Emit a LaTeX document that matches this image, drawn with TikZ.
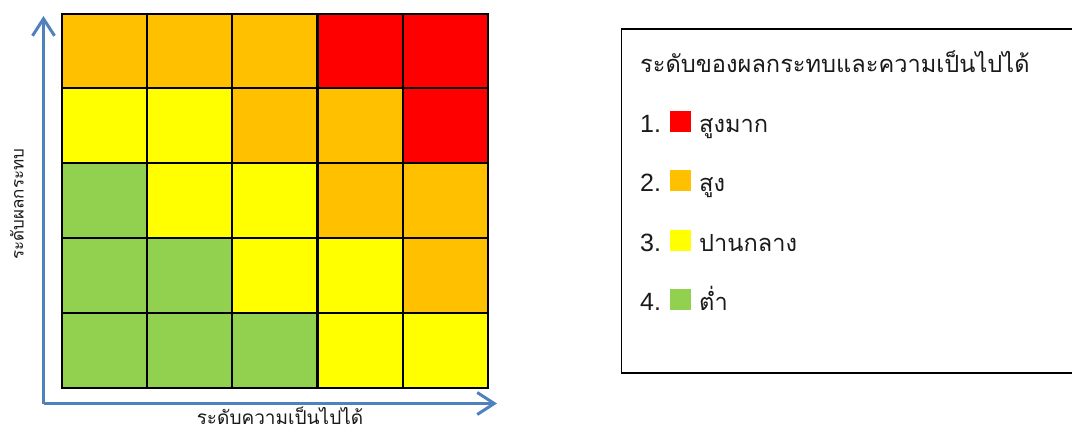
\documentclass[tikz,border=0pt]{standalone}
\usepackage{fontspec}
\usetikzlibrary{arrows.meta}
\newfontfamily\thaifont[Script=Thai]{Loma}
\newfontfamily\latfont{Liberation Sans}
\definecolor{cred}{HTML}{FF0000}
\definecolor{corange}{HTML}{FFC000}
\definecolor{cyellow}{HTML}{FFFF00}
\definecolor{cgreen}{HTML}{92D050}
\definecolor{axisblue}{HTML}{4F81BD}
\definecolor{txt}{HTML}{1A1A1A}
\tikzset{
  cell/.style={draw=black, line width=2pt, minimum width=85pt, minimum height=74.8pt, inner sep=0pt, anchor=north west},
  axis/.style={draw=axisblue, line width=3pt, -{Straight Barb[length=17pt,width=22pt,line width=3pt]}},
  lbl/.style={font=\thaifont\fontsize{19}{22}\selectfont, text=txt, inner sep=0pt},
  sw/.style={minimum width=21pt, minimum height=21pt, inner sep=0pt, anchor=south west},
  item/.style={font=\thaifont\fontsize{23.6}{28}\selectfont, text=txt, inner sep=0pt, anchor=base west},
  num/.style={font=\latfont\fontsize{25}{30}\selectfont, text=txt, inner sep=0pt, anchor=base west}
}
\begin{document}
\begin{tikzpicture}[x=1pt,y=-1pt]
\useasboundingbox (0,0) rectangle (1072,432);
% grid
\foreach \r/\row in {0/{corange,corange,corange,cred,cred},1/{cyellow,cyellow,corange,corange,cred},2/{cgreen,cyellow,cyellow,corange,corange},3/{cgreen,cgreen,cyellow,cyellow,corange},4/{cgreen,cgreen,cgreen,cyellow,cyellow}}{
  \foreach \c [count=\ci from 0] in \row {
    \node[cell, fill=\c] (cell-\r-\ci) at ({61+85.2*\ci},{12.5+74.8*\r}) {};
  }
}
% axes
\coordinate (origin) at (43.5,403.5);
\coordinate (ytip) at (43.5,16);
\coordinate (xtip) at (497,403.5);
\draw[axis] (origin) -- (ytip);
\draw[axis] (origin) -- (xtip);
\node[lbl, font=\thaifont\fontsize{17}{20}\selectfont, rotate=90] (ylabel) at (17,204) {ระดับผลกระทบ};
\node[lbl, anchor=base] (xlabel) at (280,424) {ระดับความเป็นไปได้};
% legend
\draw[line width=1.6pt] (1074,29) -- (621.5,29) -- (621.5,373) -- (1074,373);
\node[item] (title) at (640,72) {ระดับของผลกระทบและความเป็นไปได้};
\node[num] (n1) at (640,132) {1.};
\node[sw, fill=cred] (s1) at (670,132) {};
\node[item] (t1) at (699,132) {สูงมาก};
\node[num] (n2) at (640,191) {2.};
\node[sw, fill=corange] (s2) at (670,191) {};
\node[item] (t2) at (699,191) {สูง};
\node[num] (n3) at (640,251) {3.};
\node[sw, fill=cyellow] (s3) at (670,251) {};
\node[item] (t3) at (699,251) {ปานกลาง};
\node[num] (n4) at (640,310) {4.};
\node[sw, fill=cgreen] (s4) at (670,310) {};
\node[item] (t4) at (699,310) {ต่ำ};
\end{tikzpicture}
\end{document}
